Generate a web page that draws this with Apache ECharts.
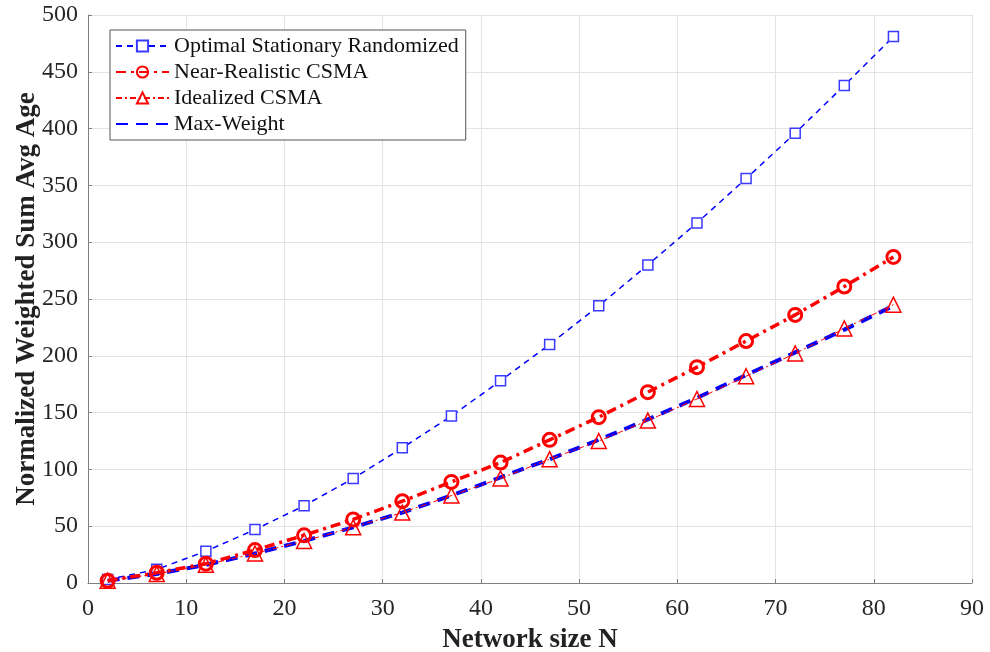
<!DOCTYPE html>
<html>
<head>
<meta charset="utf-8">
<script src="https://cdn.jsdelivr.net/npm/echarts@6/dist/echarts.min.js"></script>
<style>html,body{margin:0;padding:0;background:#fff;}#c{width:990px;height:652px;}</style>
</head>
<body>
<div id="c"></div>
<script>
var networkSize = [2, 7, 12, 17, 22, 27, 32, 37, 42, 47, 52, 57, 62, 67, 72, 77, 82];
var optimalStationary = [3, 12, 28, 47, 68, 92, 119, 147, 178, 210, 244, 280, 317, 356, 396, 438, 481];
var nearRealistic = [2, 9, 17, 29, 42, 56, 72, 89, 106, 126, 146, 168, 190, 213, 236, 261, 287];
var idealized = [2, 8, 16, 26, 37, 49, 62, 77, 92, 109, 125, 143, 162, 182, 202, 224, 245];
var maxWeight = [2, 8, 16, 26, 37, 49, 62, 77, 93, 109, 126, 144, 163, 183, 203, 223, 244];
var seriesNames = ['Optimal Stationary Randomized', 'Near-Realistic CSMA', 'Idealized CSMA', 'Max-Weight'];

function pairs(ys){ return networkSize.map(function(x,i){ return [x, ys[i]]; }); }

var font = '"Liberation Serif", "Times New Roman", serif';
var chart = echarts.init(document.getElementById('c'));
chart.setOption({
  animation: false,
  backgroundColor: '#fff',
  textStyle: { fontFamily: font },
  grid: { left: 88, right: 18, top: 15, bottom: 69, containLabel: false, outerBoundsMode: 'none' },
  legend: {
    orient: 'vertical', left: 110, top: 30,
    itemWidth: 53, itemHeight: 14, itemGap: 4,
    padding: [5, 7, 5, 5],
    backgroundColor: '#fff', borderColor: '#555', borderWidth: 1,
    textStyle: { fontFamily: font, fontSize: 22, color: '#111' },
    data: [
      { name: seriesNames[0] },
      { name: seriesNames[1] },
      { name: seriesNames[2] },
      { name: seriesNames[3], itemStyle: { opacity: 0 } }
    ]
  },
  xAxis: {
    type: 'value', min: 0, max: 90, interval: 10,
    name: 'Network size N', nameLocation: 'middle', nameGap: 44, nameMoveOverlap: false,
    nameTextStyle: { fontFamily: font, fontSize: 27, fontWeight: 'bold', color: '#222' },
    axisLine: { show: true, lineStyle: { color: '#7f7f7f', width: 1 } },
    axisTick: { show: true, inside: true, length: 4, lineStyle: { color: '#7f7f7f' } },
    axisLabel: { fontFamily: font, fontSize: 24, color: '#262626', margin: 14 },
    splitLine: { show: true, lineStyle: { color: '#e3e3e3', width: 1 } }
  },
  yAxis: {
    type: 'value', min: 0, max: 500, interval: 50,
    name: 'Normalized Weighted Sum Avg Age', nameLocation: 'middle', nameGap: 47, nameMoveOverlap: false,
    nameTextStyle: { fontFamily: font, fontSize: 27, fontWeight: 'bold', color: '#222' },
    axisLine: { show: true, lineStyle: { color: '#7f7f7f', width: 1 } },
    axisTick: { show: true, inside: true, length: 4, lineStyle: { color: '#7f7f7f' } },
    axisLabel: { fontFamily: font, fontSize: 24, color: '#262626', margin: 10 },
    splitLine: { show: true, lineStyle: { color: '#e3e3e3', width: 1 } }
  },
  series: [
    {
      name: seriesNames[0], type: 'line', data: pairs(optimalStationary),
      symbol: 'rect', symbolSize: 10,
      lineStyle: { color: '#0000ff', width: 1.5, type: [6, 5] },
      itemStyle: { color: '#fff', borderColor: '#3a3aff', borderWidth: 1.5 },
      z: 2
    },
    {
      name: seriesNames[3], type: 'line', data: pairs(maxWeight),
      symbol: 'none', showSymbol: false,
      lineStyle: { color: '#0000ff', width: 4, type: [12, 8] },
      itemStyle: { color: '#0000ff' },
      z: 3
    },
    {
      name: seriesNames[1], type: 'line', data: pairs(nearRealistic),
      symbol: 'circle', symbolSize: 13,
      lineStyle: { color: '#ff0000', width: 3.5, type: [10, 5, 3, 5] },
      itemStyle: { color: 'rgba(255,255,255,0)', borderColor: '#ff0000', borderWidth: 3 },
      z: 4
    },
    {
      name: seriesNames[2], type: 'line', data: pairs(idealized),
      symbol: 'triangle', symbolSize: 15,
      lineStyle: { color: '#ff0000', width: 1, type: [6, 3, 2, 3] },
      itemStyle: { color: 'rgba(255,255,255,0)', borderColor: '#ff0000', borderWidth: 1.5 },
      z: 4
    }
  ]
});
</script>
</body>
</html>
